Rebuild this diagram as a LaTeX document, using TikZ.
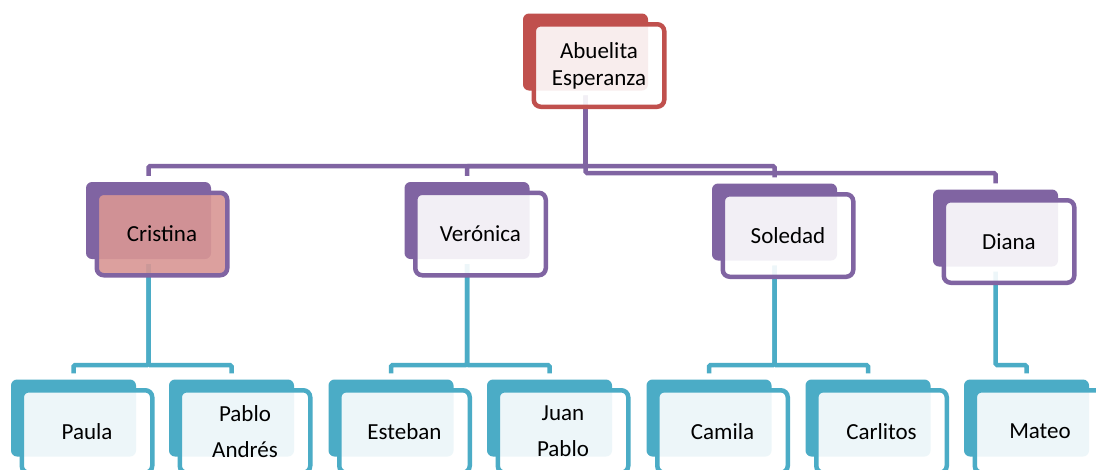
\documentclass[tikz,border=0pt]{standalone}
\usepackage{fontspec}
\setmainfont{Carlito}
\usetikzlibrary{calc}
\definecolor{cred}{HTML}{C0504D}
\definecolor{cpur}{HTML}{8064A2}
\definecolor{cblue}{HTML}{4BACC6}
\definecolor{cpink}{HTML}{D99694}
\pgfdeclarelayer{bg}
\pgfsetlayers{bg,main}
\tikzset{
 backbox/.style={rectangle, rounded corners=6pt, minimum width=125pt, minimum height=77pt, inner sep=0pt, draw=none},
 frontbox/.style={rectangle, rounded corners=7pt, minimum width=130.5pt, minimum height=82.5pt, inner sep=0pt, line width=4.5pt, fill opacity=0.9, text opacity=1, align=center, text=black, font=\fontsize{23}{27}\selectfont},
 lowtext/.style={font=\fontsize{23}{36}\selectfont},
 conn/.style={line width=4.5pt, rounded corners=1.5pt, shorten <=5pt, shorten >=6pt},
}
\newcommand{\twobox}[7]{%
 \node[backbox, fill=#4] (#1b) at (#2,#3) {};
 \node[frontbox, draw=#4, fill=#5, #7] (#1) at ($(#1b)+(13.5,13.5)$) {#6};
}
\begin{document}
\begin{tikzpicture}[x=1pt,y=-1pt]
\useasboundingbox (0,0) rectangle (1096,469);
\coordinate (lvla) at (0,166);
\coordinate (lvlb) at (0,173);
\coordinate (lvlc) at (0,365);
% top
\twobox{abu}{585.5}{52}{cred}{white}{Abuelita\\Esperanza}{}
% second row
\twobox{cri}{148.5}{220.5}{cpur}{cpink}{Cristina}{}
\twobox{ver}{467}{220.5}{cpur}{white}{Verónica}{}
\twobox{sol}{774.5}{222}{cpur}{white}{Soledad}{}
\twobox{dia}{995.5}{228}{cpur}{white}{Diana}{}
% third row
\twobox{pau}{73.5}{418}{cblue}{white}{Paula}{lowtext}
\twobox{pab}{231.5}{418}{cblue}{white}{Pablo\\Andrés}{lowtext}
\twobox{est}{391}{418}{cblue}{white}{Esteban}{lowtext}
\twobox{jua}{549.5}{418}{cblue}{white}{Juan\\Pablo}{lowtext}
\twobox{cam}{709}{418}{cblue}{white}{Camila}{lowtext}
\twobox{car}{868}{418}{cblue}{white}{Carlitos}{lowtext}
\twobox{mat}{1026.5}{418}{cblue}{white}{Mateo}{lowtext}
\begin{pgfonlayer}{bg}
\fill[white] (0,0) rectangle (1096,469);
\draw[conn, cpur] (abub.south) -- (abub.south |- lvla) -| (crib.north);
\draw[conn, cpur] (abub.south) -- (abub.south |- lvla) -| (verb.north);
\draw[conn, cpur] (abub.south) -- (abub.south |- lvla) -| (solb.north);
\draw[conn, cpur] (abub.south) -- (abub.south |- lvlb) -| (diab.north);
\draw[conn, cblue] (crib.south) -- (crib.south |- lvlc) -| (paub.north);
\draw[conn, cblue] (crib.south) -- (crib.south |- lvlc) -| (pabb.north);
\draw[conn, cblue] (verb.south) -- (verb.south |- lvlc) -| (estb.north);
\draw[conn, cblue] (verb.south) -- (verb.south |- lvlc) -| (juab.north);
\draw[conn, cblue] (solb.south) -- (solb.south |- lvlc) -| (camb.north);
\draw[conn, cblue] (solb.south) -- (solb.south |- lvlc) -| (carb.north);
\draw[conn, cblue] (diab.south) -- (diab.south |- lvlc) -| (matb.north);
\end{pgfonlayer}
\end{tikzpicture}
\end{document}
